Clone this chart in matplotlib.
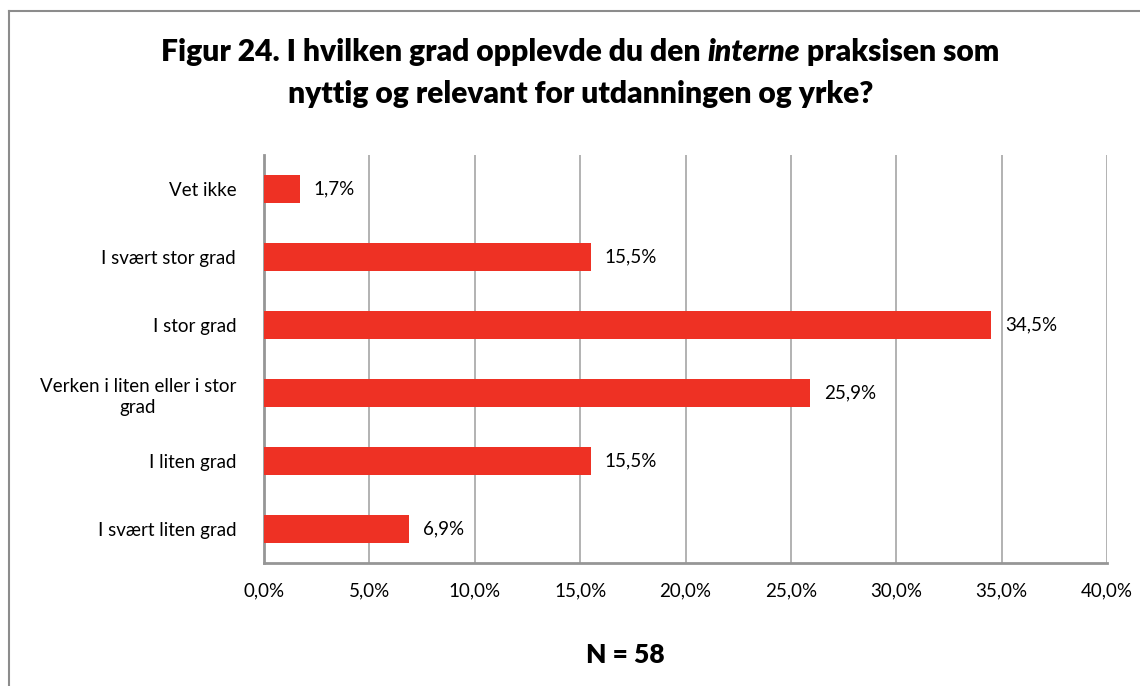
import matplotlib
matplotlib.use("Agg")
import matplotlib.pyplot as plt
from matplotlib.lines import Line2D
from matplotlib.ticker import FuncFormatter

plt.rcParams['font.family'] = ['Lato', 'DejaVu Sans']

categories = ["I svært liten grad", "I liten grad", "Verken i liten eller i stor\ngrad",
              "I stor grad", "I svært stor grad", "Vet ikke"]
values = [6.9, 15.5, 25.9, 34.5, 15.5, 1.7]
xticks = [0, 5, 10, 15, 20, 25, 30, 35, 40]

fig = plt.figure(figsize=(11.4, 6.86), dpi=100)
W, H = 1140, 686
ax = fig.add_axes([264 / W, 1 - 563 / H, (1107 - 264) / W, (563 - 155) / H])

bar_color = "#EE3124"
y = list(range(len(categories)))
ax.barh(y, values, height=0.4, color=bar_color, zorder=3)
ax.set_ylim(-0.5, len(categories) - 0.5)
ax.set_xlim(0, 40)
ax.set_xticks(xticks)
ax.xaxis.set_major_formatter(FuncFormatter(lambda v, p: f"{v:.1f}%".replace(".", ",")))
ax.set_yticks(y)
ax.set_yticklabels(categories, multialignment='center', linespacing=1.35)
ax.tick_params(axis='both', length=0, labelsize=13.5, colors="black")
ax.tick_params(axis='y', pad=20)
ax.tick_params(axis='x', pad=14)
ax.grid(axis='x', color="#A6A6A6", linewidth=1.2, zorder=0)
for s in ['top', 'right']:
    ax.spines[s].set_visible(False)
for s in ['left', 'bottom']:
    ax.spines[s].set_color("#969696")
    ax.spines[s].set_linewidth(2)

for yi, v in zip(y, values):
    ax.annotate(f"{v:.1f}%".replace(".", ","), xy=(v, yi), xytext=(10, 0),
                textcoords="offset points", va="center", ha="left", fontsize=13.5)

# title with italic word, line 1 built from pieces and centered
fs_title = 21.6
renderer = fig.canvas.get_renderer()
pieces = [("Figur 24. I hvilken grad opplevde du den ", 'normal'),
          ("interne", 'italic'),
          (" praksisen som", 'normal')]
texts = []
for s, st in pieces:
    tt = fig.text(0, 1 - 52 / H, s, fontsize=fs_title, fontweight='heavy', style=st,
                  va='center', ha='left')
    texts.append(tt)
widths = [tt.get_window_extent(renderer).width for tt in texts]
total = sum(widths)
x0 = 580 - total / 2
for tt, w in zip(texts, widths):
    tt.set_x(x0 / W)
    x0 += w
fig.text(581 / W, 1 - 94 / H, "nyttig og relevant for utdanningen og yrke?",
         fontsize=fs_title, fontweight='heavy', ha='center', va='center')

fig.text(625 / W, 1 - 655 / H, "N = 58", fontsize=19, fontweight='heavy',
         ha='center', va='center')

# chart border
fig.add_artist(Line2D([9 / W, 1.0], [1 - 11 / H, 1 - 11 / H], color="#8C8C8C", lw=1.5))
fig.add_artist(Line2D([9 / W, 9 / W], [1 - 11 / H, 0.0], color="#8C8C8C", lw=1.5))

fig.savefig("out.png", dpi=100)
